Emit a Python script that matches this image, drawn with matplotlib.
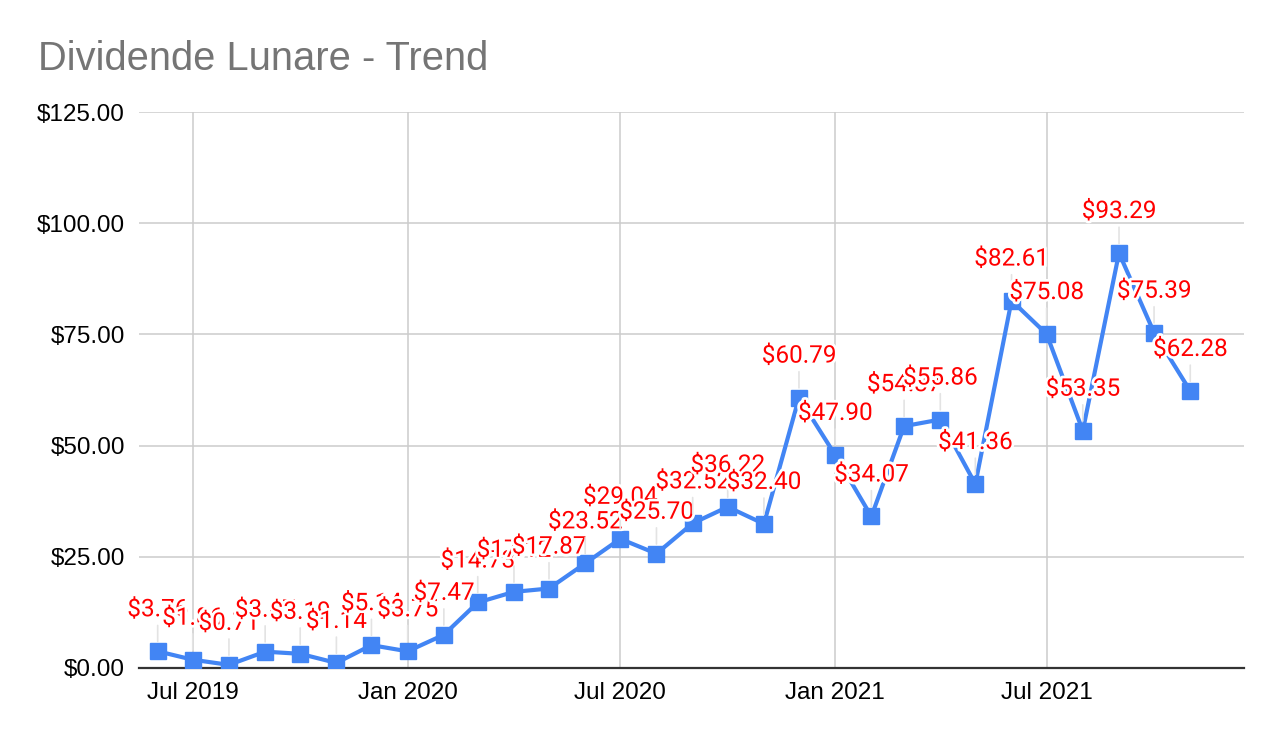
import matplotlib
matplotlib.use("Agg")
import matplotlib.pyplot as plt
import matplotlib.dates as mdates
import matplotlib.patheffects as pe
from matplotlib.ticker import FuncFormatter, FixedLocator
import datetime as dt

# dati mensili (giugno 2019 - novembre 2021)
mesi = [dt.date(2019 + (5 + i) // 12, (5 + i) % 12 + 1, 1) for i in range(30)]
dividendi = [3.76, 1.86, 0.71, 3.67, 3.19, 1.14, 5.14, 3.75, 7.47, 14.73,
             17.12, 17.87, 23.52, 29.04, 25.70, 32.52, 36.22, 32.40, 60.79, 47.90,
             34.07, 54.37, 55.86, 41.36, 82.61, 75.08, 53.35, 93.29, 75.39, 62.28]
tick_date = [dt.date(2019, 7, 1), dt.date(2020, 1, 1), dt.date(2020, 7, 1),
             dt.date(2021, 1, 1), dt.date(2021, 7, 1)]
tick_label = ["Jul 2019", "Jan 2020", "Jul 2020", "Jan 2021", "Jul 2021"]
titolo = "Dividende Lunare - Trend"

blu = "#4285F4"

fig = plt.figure(figsize=(12.82, 7.42), dpi=100)
ax = fig.add_axes([139 / 1282, 74 / 742, (1244 - 139) / 1282, (668 - 112) / 742])

ax.plot(mesi, dividendi, color=blu, lw=3, marker="s", ms=11.5, zorder=3)

for d, v in zip(mesi, dividendi):
    ax.annotate("$%.2f" % v, xy=(d, v), xytext=(0, 35), textcoords="offset pixels",
                ha="center", va="baseline", fontsize=17.5, color="#ff0000",
                family="Roboto", zorder=5,
                path_effects=[pe.withStroke(linewidth=4, foreground="white")],
                arrowprops=dict(arrowstyle="-", color="#e3e3e3", lw=1.2,
                                shrinkA=1, shrinkB=7))

ax.set_xlim(dt.date(2019, 5, 16), dt.date(2021, 12, 17))
ax.set_ylim(0, 125)
ax.set_yticks([0, 25, 50, 75, 100, 125])
ax.yaxis.set_major_formatter(FuncFormatter(lambda y, p: "$%.2f" % y))
ax.xaxis.set_major_locator(FixedLocator(mdates.date2num(tick_date)))
ax.set_xticklabels(tick_label)

ax.grid(True, color="#cccccc", lw=1.1, zorder=0)
ax.set_axisbelow(True)
for s in ["top", "right", "left"]:
    ax.spines[s].set_visible(False)
ax.spines["bottom"].set_color("#333333")
ax.spines["bottom"].set_linewidth(1.6)
ax.spines["bottom"].set_zorder(2)
ax.tick_params(axis="both", length=0, labelsize=17.5, labelcolor="#000000")
ax.tick_params(axis="y", pad=10)
ax.tick_params(axis="x", pad=10)
for t in ax.get_xticklabels() + ax.get_yticklabels():
    t.set_family("Liberation Sans")

fig.text(38 / 1282, 1 - 70 / 742, titolo, fontsize=28.7, color="#757575",
         family="Liberation Sans", va="baseline", ha="left")

fig.savefig("out.png", dpi=100, facecolor="white")
